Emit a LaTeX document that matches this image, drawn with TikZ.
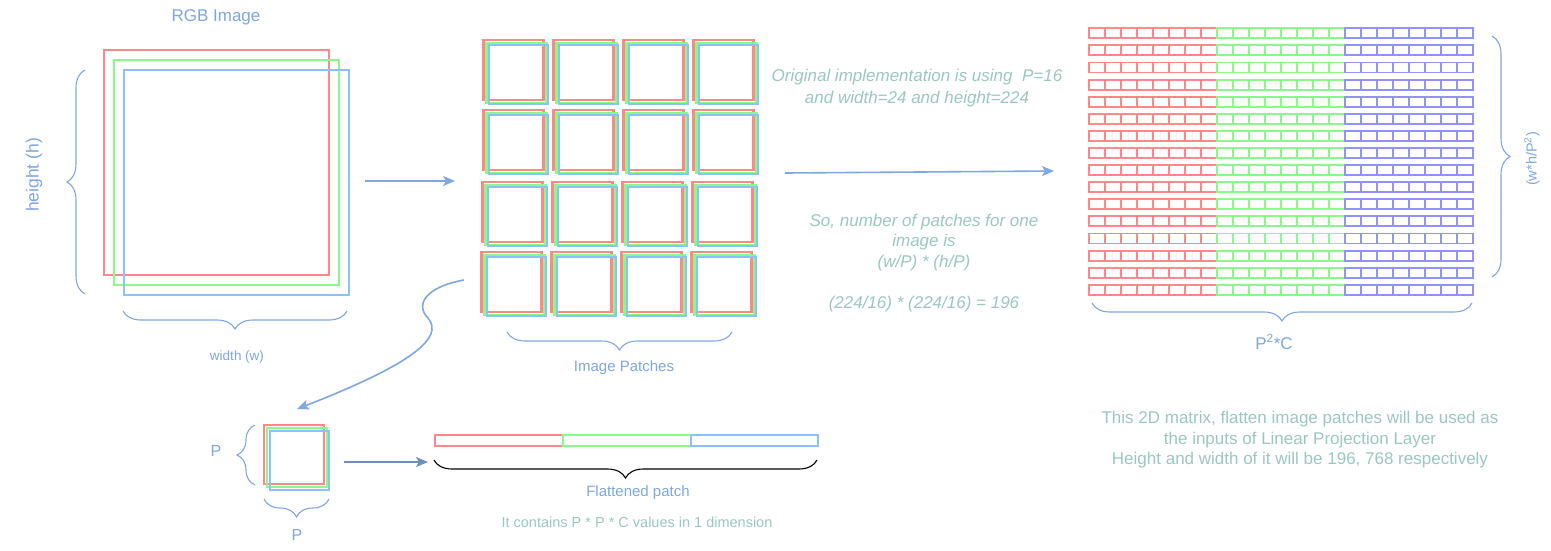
\documentclass[tikz,border=0pt]{standalone}
\usepackage{fontspec}
\setmainfont{Liberation Sans}
\usetikzlibrary{arrows.meta,decorations.pathreplacing}
\definecolor{chred}{RGB}{255,135,135}
\definecolor{chgreen}{RGB}{135,250,135}
\definecolor{chblue}{RGB}{140,192,255}
\definecolor{mxblue}{RGB}{145,145,255}
\definecolor{lblue}{RGB}{126,166,224}
\definecolor{dblue}{RGB}{108,142,191}
\definecolor{noteteal}{RGB}{154,199,191}

\begin{document}
\begin{tikzpicture}[x=1pt,y=-1pt]
		\tikzstyle{every node}+=[inner sep=0pt]
		\tikzstyle{sq}=[line width=2.4pt]
		\tikzstyle{psq}=[line width=2.2pt]
		\tikzstyle{cell}=[line width=1.9pt]
		\tikzstyle{brc}=[decorate,decoration={brace,amplitude=18pt},lblue,line width=1.1pt]
		\tikzstyle{arr}=[-{Stealth[length=12pt,width=10pt,inset=3pt]},line width=1.6pt,lblue]
		\tikzstyle{lbl}=[lblue,font=\fontsize{15}{18}\selectfont]
		\tikzstyle{note}=[noteteal,align=center,font=\fontsize{17}{20.5}\selectfont]
		\useasboundingbox (0,0) rectangle (1551,550);
		% RGB image
		\node [lbl,font=\fontsize{17}{20}\selectfont] (rgbtitle) at (216,17) {RGB Image};
		\draw [sq,chred] (104,50) rectangle (329,275);
		\draw [sq,chgreen] (114,60) rectangle (339,285);
		\draw [sq,chblue] (124,70) rectangle (349,295);
		\draw [brc] (85,294) -- (85,70);
		\node [lbl,rotate=90,font=\fontsize{17.5}{20}\selectfont] (hlabel) at (34,175) {height (h)};
		\draw [brc] (347,311) -- (123,311);
		\node [lbl,font=\fontsize{13.5}{16}\selectfont] (wlabel) at (237,357) {width (w)};
		\coordinate (imgout) at (365,181);
		\coordinate (gridin) at (455,181);
		\draw [arr] (imgout) -- (gridin);
		% patches
		\foreach \py/\px in {40/483.5,110/483.5,182/482.5,252/481.5} {
			\foreach \c in {0,...,3} {
				\draw [psq,chred] ({\px+70*\c},\py) rectangle ++(60,60);
				\draw [psq,chgreen] ({\px+70*\c+3},{\py+3}) rectangle ++(60,60);
				\draw [psq,chblue] ({\px+70*\c+5.5},{\py+5}) rectangle ++(59,59);
			}
		}
		\draw [brc] (732,332) -- (507,332);
		\node [lbl] (patchlabel) at (624,368) {Image Patches};
		% one patch
		\coordinate (patchout) at (464,280);
		\coordinate (onein) at (297,409);
		\draw [arr] (patchout) .. controls (425,287) and (415,305) .. (428,318)
			.. controls (445,338) and (410,365) .. (onein);
		\draw [sq,chred] (264,425) rectangle ++(60,59);
		\draw [sq,chgreen] (267,428) rectangle ++(60,59);
		\draw [sq,chblue] (270,431) rectangle ++(59,59);
		\draw [brc] (255,485) -- (255,425);
		\node [lbl,font=\fontsize{16}{18}\selectfont] (pleft) at (216,451) {P};
		\draw [brc] (329,499) -- (264,499);
		\node [lbl,font=\fontsize{16}{18}\selectfont] (pbottom) at (297,535) {P};
		\coordinate (oneout) at (344,462);
		\coordinate (flatin) at (428,462);
		\draw [arr,dblue] (oneout) -- (flatin);
		% flattened patch
		\draw [psq,chred] (435,435) rectangle (563,446);
		\draw [psq,chgreen] (563,435) rectangle (691,446);
		\draw [psq,chblue] (691,435) rectangle (818,446);
		\draw [brc,black] (817,460) -- (434,460);
		\node [lbl] (flatlabel) at (638,493) {Flattened patch};
		\node [note,font=\fontsize{14.5}{17}\selectfont] (flatnote) at (637,522) {It contains P * P * C values in 1 dimension};
		% notes and arrow to the matrix
		\node [note,font=\fontsize{17}{22}\selectfont\itshape] (orignote) at (917,88) {Original implementation is using\ \ P=16\\and width=24 and height=224};
		\node [note,font=\fontsize{17}{20.5}\selectfont\itshape] (countnote) at (924,263) {So, number of patches for one\\image is\\(w/P) * (h/P)\\[20.5pt](224/16) * (224/16) = 196};
		\coordinate (gridout) at (785,173);
		\coordinate (mxin) at (1054,171);
		\draw [arr] (gridout) -- (mxin);
		% matrix
		\foreach \r in {0,...,15} {
			\pgfmathsetmacro{\ty}{28.3+17.1*\r}
			\foreach \col/\off in {chred/0,chgreen/128,mxblue/256} {
				\foreach \c in {0,...,7} {
					\draw [cell,\col] ({1089+\off+16*\c},\ty) rectangle ++(16,10);
				}
			}
		}
		\draw [brc] (1492,36) -- (1492,277);
		\node [lbl,rotate=90,font=\fontsize{14.5}{17}\selectfont] (seqlabel) at (1532,159) {(w*h/P\textsuperscript{2})};
		\draw [brc] (1472,303) -- (1092,303);
		\node [lbl,font=\fontsize{17}{20}\selectfont] (dimlabel) at (1274,342) {P\textsuperscript{2}*C};
		\node [note] (mxnote) at (1300,440) {This 2D matrix, flatten image patches will be used as\\the inputs of Linear Projection Layer\\Height and width of it will be 196, 768 respectively};
	\end{tikzpicture}
\end{document}
